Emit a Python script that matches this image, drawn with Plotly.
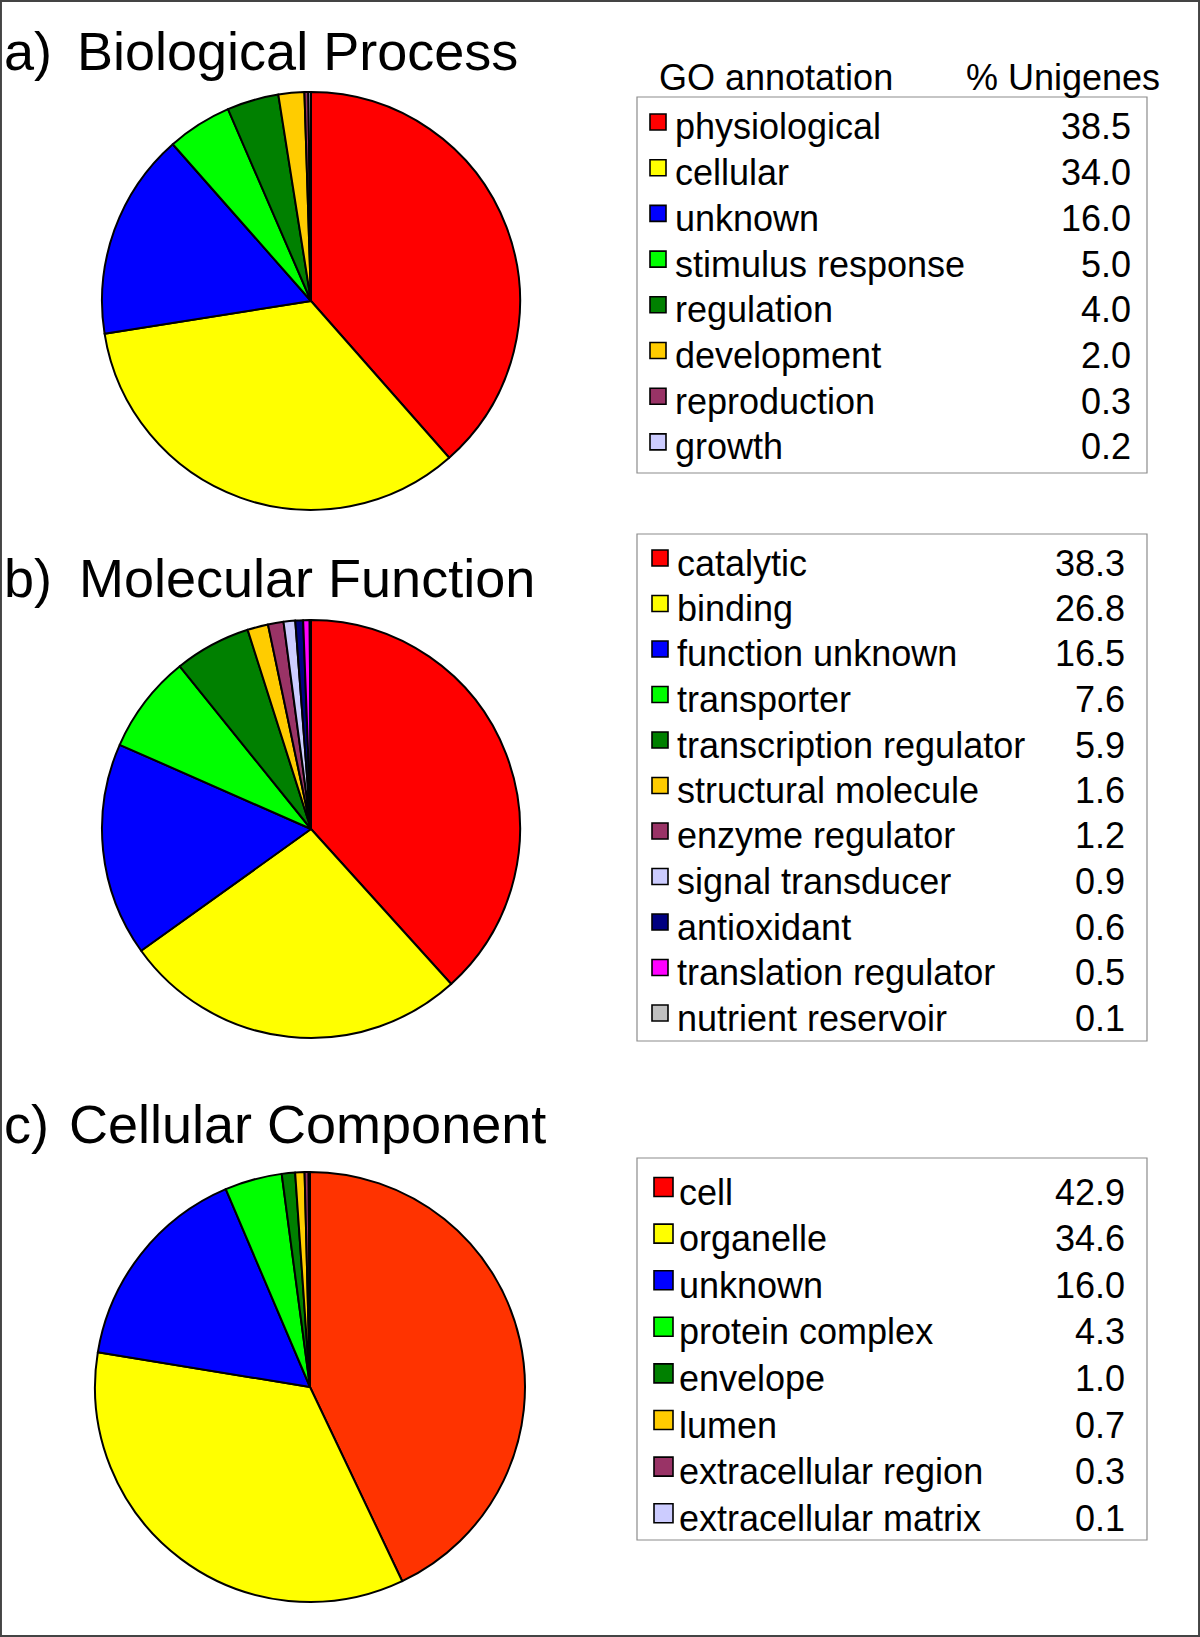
import plotly.graph_objects as go

W, H = 1200, 1637

# ---------------- data ----------------
bp_labels = ["physiological", "cellular", "unknown", "stimulus response",
             "regulation", "development", "reproduction", "growth"]
bp_values = [38.5, 34.0, 16.0, 5.0, 4.0, 2.0, 0.3, 0.2]
bp_colors = ["#FF0000", "#FFFF00", "#0000FF", "#00FF00",
             "#008000", "#FFCC00", "#993366", "#CCCCFF"]

mf_labels = ["catalytic", "binding", "function unknown", "transporter",
             "transcription regulator", "structural molecule", "enzyme regulator",
             "signal transducer", "antioxidant", "translation regulator",
             "nutrient reservoir"]
mf_values = [38.3, 26.8, 16.5, 7.6, 5.9, 1.6, 1.2, 0.9, 0.6, 0.5, 0.1]
mf_colors = ["#FF0000", "#FFFF00", "#0000FF", "#00FF00", "#008000", "#FFCC00",
             "#993366", "#CCCCFF", "#000080", "#FF00FF", "#C0C0C0"]

cc_labels = ["cell", "organelle", "unknown", "protein complex", "envelope",
             "lumen", "extracellular region", "extracellular matrix"]
cc_values = [42.9, 34.6, 16.0, 4.3, 1.0, 0.7, 0.3, 0.1]
cc_pie_colors = ["#FF3300", "#FFFF00", "#0000FF", "#00FF00",
                 "#008000", "#FFCC00", "#993366", "#CCCCFF"]
cc_key_colors = ["#FF0000", "#FFFF00", "#0000FF", "#00FF00",
                 "#008000", "#FFCC00", "#993366", "#CCCCFF"]

panel_letters = ["a)", "b)", "c)"]
panel_titles = ["Biological Process", "Molecular Function", "Cellular Component"]
header_left = "GO annotation"
header_right = "% Unigenes"

FONT = "Arial, 'Liberation Sans', Helvetica, sans-serif"

fig = go.Figure()
shapes = []
annotations = []


def px_x(x):
    return x / W


def px_y(y):
    return 1 - y / H


TXT_PAD = 3  # annotation inner padding

panels = [
    dict(labels=bp_labels, values=bp_values, pie_colors=bp_colors, key_colors=bp_colors,
         cx=311, cy=301, r=209, title_y=51, title_x=78,
         box=(637, 97, 1147, 473), row0=127, dy=45.7,
         sw_x=650, sw=16, txt_x=676, val_x=1130),
    dict(labels=mf_labels, values=mf_values, pie_colors=mf_colors, key_colors=mf_colors,
         cx=311, cy=829, r=209, title_y=578, title_x=80,
         box=(637, 534, 1147, 1041), row0=563, dy=45.5,
         sw_x=652, sw=16, txt_x=678, val_x=1124),
    dict(labels=cc_labels, values=cc_values, pie_colors=cc_pie_colors, key_colors=cc_key_colors,
         cx=310, cy=1387, r=215, title_y=1124, title_x=70,
         box=(637, 1158, 1147, 1540), row0=1192, dy=46.6,
         sw_x=654, sw=19, txt_x=680, val_x=1124),
]

for i, p in enumerate(panels):
    cx, cy, r = p["cx"], p["cy"], p["r"]
    fig.add_trace(go.Pie(
        labels=p["labels"], values=p["values"],
        marker=dict(colors=p["pie_colors"], line=dict(color="black", width=2)),
        sort=False, direction="clockwise", rotation=0,
        textinfo="none", hoverinfo="label+value", showlegend=False,
        domain=dict(x=[px_x(cx - r), px_x(cx + r)], y=[px_y(cy + r), px_y(cy - r)]),
    ))
    # panel titles
    annotations.append(dict(text=panel_letters[i], x=px_x(5 - TXT_PAD), y=px_y(p["title_y"]),
                            xref="paper", yref="paper", xanchor="left", yanchor="middle",
                            showarrow=False, font=dict(family=FONT, size=54, color="black")))
    annotations.append(dict(text=panel_titles[i], x=px_x(p["title_x"] - TXT_PAD), y=px_y(p["title_y"]),
                            xref="paper", yref="paper", xanchor="left", yanchor="middle",
                            showarrow=False, font=dict(family=FONT, size=54, color="black")))
    # key box
    x0, y0, x1, y1 = p["box"]
    shapes.append(dict(type="rect", xref="paper", yref="paper",
                       x0=px_x(x0), x1=px_x(x1), y0=px_y(y1), y1=px_y(y0),
                       line=dict(color="#8c8c8c", width=1.2), fillcolor="rgba(0,0,0,0)"))
    for j, (lab, val, col) in enumerate(zip(p["labels"], p["values"], p["key_colors"])):
        ry = p["row0"] + j * p["dy"]
        s = p["sw"]
        sy = ry - 5
        shapes.append(dict(type="rect", xref="paper", yref="paper",
                           x0=px_x(p["sw_x"]), x1=px_x(p["sw_x"] + s),
                           y0=px_y(sy + s / 2), y1=px_y(sy - s / 2),
                           line=dict(color="black", width=1.6), fillcolor=col))
        annotations.append(dict(text=lab, x=px_x(p["txt_x"] - TXT_PAD), y=px_y(ry),
                                xref="paper", yref="paper", xanchor="left", yanchor="middle",
                                showarrow=False, font=dict(family=FONT, size=36, color="black")))
        annotations.append(dict(text=f"{val:.1f}", x=px_x(p["val_x"] + TXT_PAD), y=px_y(ry),
                                xref="paper", yref="paper", xanchor="right", yanchor="middle",
                                showarrow=False, font=dict(family=FONT, size=36, color="black")))

# key headers
annotations.append(dict(text=header_left, x=px_x(660 - TXT_PAD), y=px_y(77), xref="paper", yref="paper",
                        xanchor="left", yanchor="middle", showarrow=False,
                        font=dict(family=FONT, size=36, color="black")))
annotations.append(dict(text=header_right, x=px_x(1159 + TXT_PAD), y=px_y(77), xref="paper", yref="paper",
                        xanchor="right", yanchor="middle", showarrow=False,
                        font=dict(family=FONT, size=36, color="black")))

# outer frame
shapes.append(dict(type="rect", xref="paper", yref="paper", x0=0.0008, x1=0.9992, y0=0.0006, y1=0.9994,
                   line=dict(color="#444444", width=2), fillcolor="rgba(0,0,0,0)"))

fig.update_layout(
    width=W, height=H, margin=dict(l=0, r=0, t=0, b=0),
    paper_bgcolor="white", plot_bgcolor="white",
    shapes=shapes, annotations=annotations, showlegend=False,
)

fig.write_html(
    "out.html",
    config={"displayModeBar": False},
    post_script="document.body.style.margin='0';document.body.style.overflow='hidden';",
)
